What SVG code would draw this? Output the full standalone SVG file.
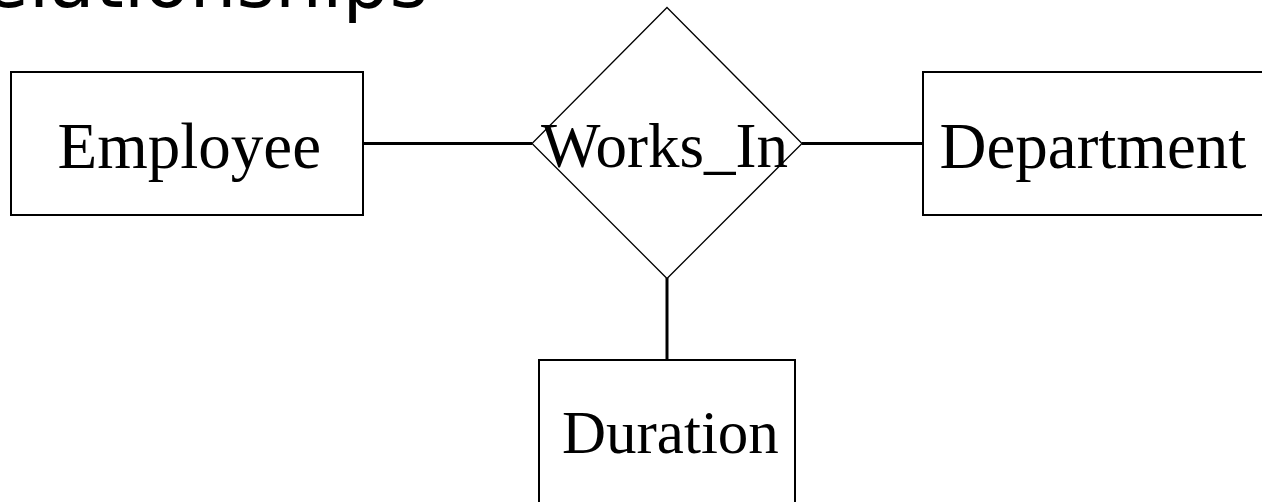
<svg xmlns="http://www.w3.org/2000/svg" width="1262" height="502" viewBox="0 0 1262 502">
<style>
.box{fill:#fff;stroke:#000;stroke-width:2}
.rel{fill:#fff;stroke:#000;stroke-width:1.3}
.lbl{font-family:"Liberation Serif","Times New Roman",serif;font-size:65px;fill:#000}
.conn{stroke:#000;stroke-width:3;fill:none}
.title{font-family:"DejaVu Sans",Verdana,sans-serif;font-size:74px;fill:#000}
</style>
<rect width="1262" height="502" fill="#fff"/>
<text class="title" x="428" y="7" text-anchor="end">elationships</text>
<g id="connectors">
<line class="conn" x1="363" y1="143.5" x2="532" y2="143.5"/>
<line class="conn" x1="802" y1="143.5" x2="923" y2="143.5"/>
<line class="conn" x1="667" y1="278" x2="667" y2="360"/>
</g>
<g id="employee">
<rect class="box" x="11" y="72" width="352" height="143"/>
<text class="lbl" x="57.5" y="168">Employee</text>
</g>
<g id="works_in">
<polygon class="rel" points="667,7.5 802,143.5 667,278.5 532,143.5"/>
<text class="lbl" x="541" y="167" style="font-size:63px">Works_In</text>
</g>
<g id="department">
<rect class="box" x="923" y="72" width="350" height="143"/>
<text class="lbl" x="939.5" y="168">Department</text>
</g>
<g id="duration">
<rect class="box" x="539" y="360" width="256" height="160"/>
<text class="lbl" x="562" y="453" style="font-size:61px">Duration</text>
</g>
</svg>
